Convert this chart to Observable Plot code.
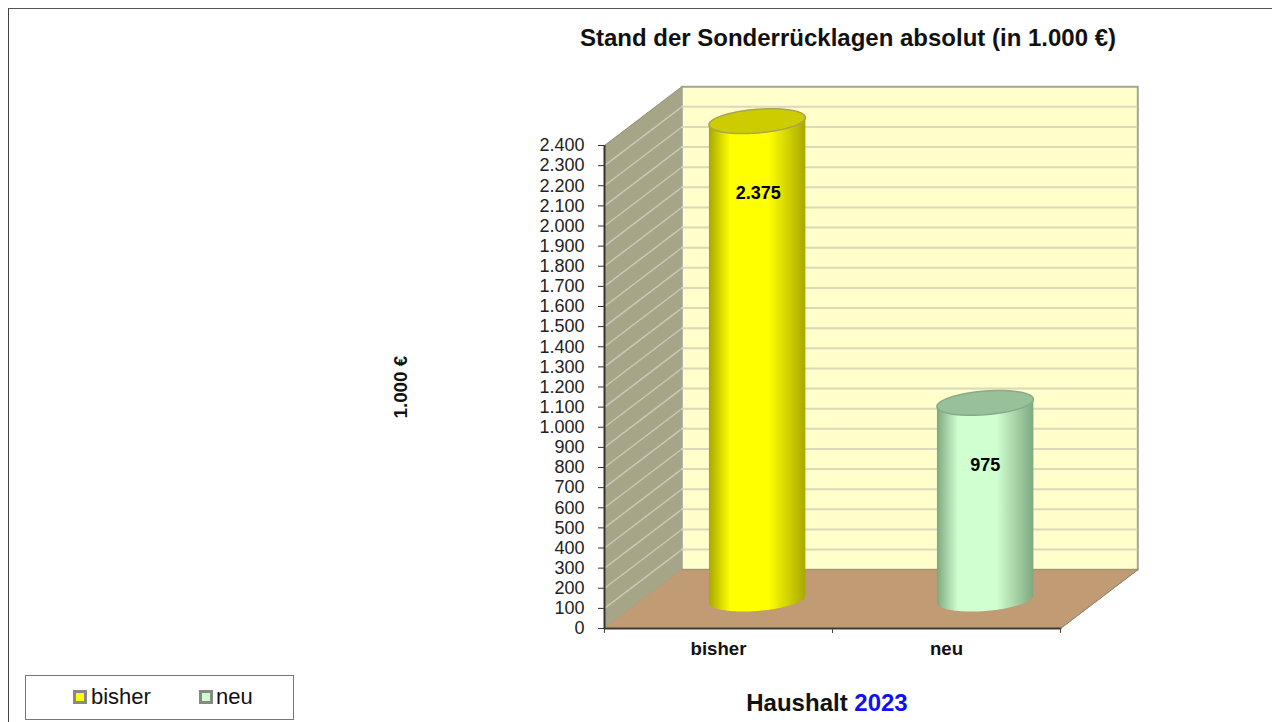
<!DOCTYPE html>
<html lang="de">
<head>
<meta charset="utf-8">
<script src="https://cdn.jsdelivr.net/npm/d3@7"></script>
<script src="https://cdn.jsdelivr.net/npm/@observablehq/plot@0.6"></script>
<style>
html,body{margin:0;padding:0;background:#fff;width:1272px;height:722px;overflow:hidden;font-family:"Liberation Sans",Arial,sans-serif;color:#000}
#frame{position:absolute;left:8px;top:8px;width:1264px;height:714px;box-sizing:border-box;border-left:1px solid #444;border-top:1px solid #555}
#title{position:absolute;left:500px;width:696px;top:24px;text-align:center;font-weight:bold;font-size:24px;line-height:28px;color:#111}
#chart{position:absolute;left:-1px;top:70px}
#chart svg{overflow:visible;display:block}
#legend{position:absolute;left:25px;top:675px;width:269px;height:45px;box-sizing:border-box;border:1px solid #777}
.sw{position:absolute;top:14px;width:14px;height:14px;box-sizing:border-box;border:3px solid #888}
.lt{position:absolute;top:8px;font-size:22px;line-height:26px;color:#111}
#foot{position:absolute;left:677px;width:300px;top:689px;text-align:center;font-weight:bold;font-size:24px;line-height:28px;color:#111}
#foot span{color:#1010f0}
</style>
</head>
<body>
<div id="frame"></div>
<div id="title"></div>
<div id="chart"></div>
<div id="legend"></div>
<div id="foot"></div>
<script>
const chartTitle = "Stand der Sonderrücklagen absolut (in 1.000 €)";
const yTitle = "1.000 €";
const footLabel = "Haushalt";
const footYear = "2023";
const categories = ["bisher", "neu"];
const values = [2375, 975];
const valueLabels = ["2.375", "975"];
const bodyLight = ["#ffff00", "#d0ffd0"];
const bodyDark = ["#a8a800", "#80a880"];
const topFill = ["#cccc00", "#99c199"];
const topStroke = ["#a8a450", "#8aa88a"];
const yTicks = d3.range(0, 2401, 100);

const depthX = 0.339, depthY = 292;          // 3D depth, in scale units
const radius = 0.2115, tilt = 18, flat = 59; // cylinder shape, in scale units
const fmt = d => d3.format(",")(d).replace(/,/g, ".");

const ellipse = (cx, lvl, from, to) => d3.range(0, 61).map(k => {
  const t = from + (to - from) * k / 60;
  return {x: cx + radius * Math.cos(t), y: lvl + tilt * Math.cos(t) - flat * Math.sin(t)};
});
const centre = i => i + 0.5 + depthX / 2;
const baseLevel = depthY / 2;
const bodyPath = i => [
  {x: centre(i) - radius, y: values[i] + baseLevel - tilt},
  ...ellipse(centre(i), baseLevel, Math.PI, 0),
  {x: centre(i) + radius, y: values[i] + baseLevel + tilt},
  {x: centre(i) - radius, y: values[i] + baseLevel - tilt}
];
const topPath = i => ellipse(centre(i), values[i] + baseLevel, 0, 2 * Math.PI);

const sideWall = [{x:0,y:0},{x:0,y:2400},{x:depthX,y:2400+depthY},{x:depthX,y:depthY},{x:0,y:0}];
const backWall = [{x:depthX,y:depthY},{x:depthX,y:2400+depthY},{x:2+depthX,y:2400+depthY},{x:2+depthX,y:depthY},{x:depthX,y:depthY}];
const floor = [{x:0,y:0},{x:depthX,y:depthY},{x:2+depthX,y:depthY},{x:2,y:0},{x:0,y:0}];
const xy = {x: "x", y: "y"};

const gradients = () => {
  const defs = d3.create("svg:defs");
  categories.forEach((c, i) => {
    const g = defs.append("linearGradient").attr("id", "cyl" + i);
    [[0, bodyDark[i]], [0.22, bodyLight[i]], [0.62, bodyLight[i]], [1, bodyDark[i]]].forEach(([o, col]) =>
      g.append("stop").attr("offset", o).attr("stop-color", col));
  });
  return defs.node();
};

const chart = Plot.plot({
  width: 1272, height: 600,
  marginLeft: 605, marginRight: 211, marginTop: 75, marginBottom: 42,
  x: {domain: [0, 2], axis: null},
  y: {domain: [0, 2400], axis: null},
  style: {fontFamily: '"Liberation Sans",Arial,sans-serif', background: "transparent", color: "#111"},
  marks: [
    gradients,
    Plot.line(sideWall, {...xy, fill: "#a6a587", stroke: "#8f8f78", strokeWidth: 1}),
    Plot.link(yTicks.slice(1, -1), {x1: 0, y1: d => d, x2: depthX, y2: d => d + depthY, stroke: "#c9c9ba", strokeWidth: 1.5}),
    Plot.line(backWall, {...xy, fill: "#ffffcc", stroke: "#a3a39a", strokeWidth: 2}),
    Plot.ruleY(yTicks.slice(1, -1), {y: d => d + depthY, x1: depthX, x2: 2 + depthX, stroke: "#dcd8b8", strokeWidth: 2}),
    Plot.line(floor, {...xy, fill: "#c19b74", stroke: "#c19b74", strokeWidth: 1}),
    Plot.line([{x:depthX,y:depthY},{x:2+depthX,y:depthY}], {...xy, stroke: "#a3906e", strokeWidth: 1}),
    Plot.line([{x:2,y:0},{x:2+depthX,y:depthY}], {...xy, stroke: "#8a8270", strokeWidth: 1}),
    Plot.line([{x:0,y:0},{x:2,y:0}], {...xy, stroke: "#3c3c34", strokeWidth: 2}),
    ...categories.flatMap((c, i) => [
      Plot.line(bodyPath(i), {...xy, fill: `url(#cyl${i})`, stroke: "none"}),
      Plot.line(topPath(i), {...xy, fill: topFill[i], stroke: topStroke[i], strokeWidth: 1.5})
    ]),
    Plot.ruleX([0], {y1: 0, y2: 2400, stroke: "#333", strokeWidth: 2}),
    Plot.axisY({ticks: yTicks, tickFormat: fmt, tickSize: 6, tickPadding: 14, label: null, fontSize: 18, stroke: "#333", color: "#222"}),
    Plot.axisX({ticks: [0, 1, 2], tickFormat: () => "", tickSize: 5, label: null, stroke: "#444"}),
    Plot.text(categories, {x: (d, i) => i + 0.5, y: 0, text: d => d, dy: 21, fontWeight: "bold", fontSize: 18.6, fill: "#111"}),
    Plot.text([valueLabels[0]], {x: centre(0), y: values[0] + baseLevel, dx: 1, dy: 72.5, fontWeight: "bold", fontSize: 18, fill: "#000"}),
    Plot.text([valueLabels[1]], {x: centre(1), y: values[1] + baseLevel, dy: 62.5, fontWeight: "bold", fontSize: 18, fill: "#000"}),
    Plot.text([yTitle], {frameAnchor: "top-left", dx: 394 - 605, dy: 348 - 75, rotate: -90, fontWeight: "bold", fontSize: 18.8, fill: "#111"})
  ]
});
document.getElementById("chart").append(chart);

document.getElementById("title").textContent = chartTitle;
document.getElementById("foot").innerHTML = `${footLabel} <span>${footYear}</span>`;

const legend = d3.select("#legend");
const swatchLeft = [47, 173], textLeft = [65, 190];
categories.forEach((c, i) => {
  legend.append("div").attr("class", "sw").style("left", swatchLeft[i] + "px").style("background", i ? "#ccffcc" : bodyLight[i]);
  legend.append("div").attr("class", "lt").style("left", textLeft[i] + "px").text(c);
});
</script>
</body>
</html>
